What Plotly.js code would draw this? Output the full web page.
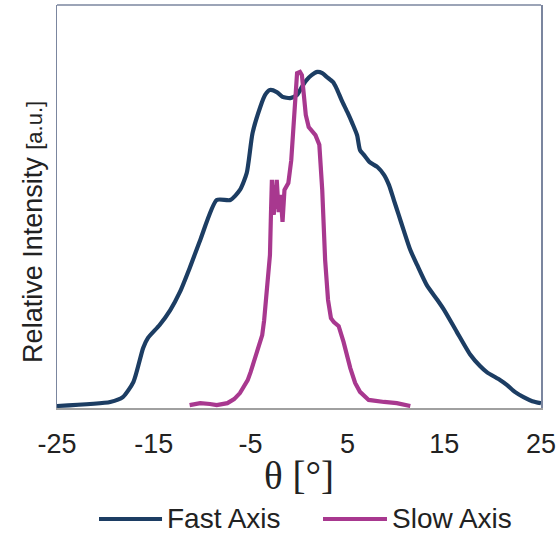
<!DOCTYPE html>
<html>
<head>
<meta charset="utf-8">
<script src="https://cdn.plot.ly/plotly-3.0.1.min.js"></script>
<style>html,body{margin:0;padding:0;background:#fff;}#chart{width:557px;height:535px;}</style>
</head>
<body>
<div id="chart"></div>
<script>
const fastTheta = [-25.0,-19.5,-18.2,-17.1,-16.1,-15.6,-14.4,-13.3,-12.3,-11.3,-10.2,-8.5,-7.1,-6.1,-5.4,-4.8,-4.0,-3.5,-3.0,-2.3,-1.7,-0.9,-0.2,0.3,0.8,1.3,1.9,2.4,2.9,3.5,3.9,4.4,5.0,5.5,6.0,6.3,6.7,7.3,8.1,8.8,9.3,9.8,10.3,10.8,11.5,12.2,13.2,14.3,15.0,16.3,17.7,18.7,19.4,20.8,21.5,22.3,23.2,24.1,25.0];
const fastIntensity = [0.005,0.015,0.027,0.065,0.149,0.174,0.206,0.243,0.288,0.347,0.417,0.516,0.516,0.541,0.583,0.682,0.747,0.777,0.789,0.784,0.772,0.769,0.777,0.797,0.814,0.826,0.834,0.831,0.821,0.809,0.792,0.764,0.734,0.707,0.677,0.640,0.628,0.610,0.598,0.578,0.553,0.516,0.479,0.442,0.392,0.355,0.305,0.268,0.243,0.189,0.132,0.104,0.089,0.069,0.057,0.040,0.027,0.017,0.012];
const slowTheta = [-11.3,-10.2,-9.2,-8.5,-7.4,-6.7,-6.1,-5.6,-5.3,-5.0,-4.7,-4.2,-3.8,-3.6,-3.4,-3.2,-3.0,-2.9,-2.8,-2.7,-2.6,-2.5,-2.4,-2.3,-2.1,-1.9,-1.7,-1.5,-1.1,-0.8,-0.6,-0.4,-0.2,0.1,0.3,0.5,0.7,1.0,1.7,2.1,2.4,2.7,3.0,3.3,3.6,4.1,4.6,5.3,5.8,6.3,7.2,8.8,10.1,11.5];
const slowIntensity = [0.007,0.012,0.010,0.007,0.012,0.022,0.037,0.055,0.069,0.089,0.112,0.149,0.181,0.218,0.280,0.330,0.380,0.479,0.566,0.529,0.479,0.553,0.494,0.566,0.486,0.529,0.462,0.541,0.558,0.615,0.695,0.777,0.831,0.834,0.826,0.777,0.727,0.697,0.677,0.653,0.541,0.367,0.268,0.223,0.213,0.203,0.164,0.099,0.062,0.040,0.020,0.015,0.012,0.005];
const xTicks = [-25,-15,-5,5,15,25];
const seriesNames = ['Fast Axis','Slow Axis'];
const seriesColors = ['#1c3d63','#a8388f'];

const traces = [
  {x: fastTheta, y: fastIntensity, name: seriesNames[0], mode: 'lines', line: {color: seriesColors[0], width: 4.2, shape: 'spline', smoothing: 0.6}},
  {x: slowTheta, y: slowIntensity, name: seriesNames[1], mode: 'lines', line: {color: seriesColors[1], width: 4.2}}
];

const FONT = 'Liberation Sans, Arial, sans-serif';
const legY = -0.2754;
const legendItems = [
  {x0: 0.0868, x1: 0.217, tx: 0.225},
  {x0: 0.5496, x1: 0.6818, tx: 0.690}
];

const layout = {
  width: 557, height: 535,
  margin: {l: 57, r: 16, t: 5, b: 127, autoexpand: false},
  paper_bgcolor: '#fff', plot_bgcolor: '#fff',
  font: {family: FONT, color: '#222'},
  xaxis: {
    range: [-25, 25], tickvals: xTicks, ticktext: xTicks.map(String),
    showgrid: false, zeroline: false, showline: true, linecolor: '#a0a0a0', linewidth: 1.5,
    ticks: '', ticklabelstandoff: 11, automargin: false,
    tickfont: {size: 27, family: FONT, color: '#222'},
    title: {text: 'θ [°]', font: {size: 39, family: 'Liberation Serif, serif', color: '#222'}, standoff: 4}
  },
  yaxis: {
    range: [0, 1], showticklabels: false, showgrid: false, zeroline: false, automargin: false,
    showline: true, mirror: true, linecolor: '#7b869f', linewidth: 1.5, ticks: ''
  },
  shapes: [{type: 'line', xref: 'paper', yref: 'paper', x0: 0, x1: 1, y0: 1, y1: 1, line: {color: '#7b869f', width: 1.5}}]
    .concat(legendItems.map((it, i) => ({type: 'line', xref: 'paper', yref: 'paper', x0: it.x0, x1: it.x1, y0: legY, y1: legY, line: {color: seriesColors[i], width: 4.2}}))),
  annotations: legendItems.map((it, i) => ({xref: 'paper', yref: 'paper', x: it.tx, y: legY, xanchor: 'left', yanchor: 'middle', showarrow: false, borderpad: 0, text: seriesNames[i], font: {size: 28, family: FONT, color: '#222'}}))
    .concat([{xref: 'paper', yref: 'paper', x: -0.0496, y: 0.437, xanchor: 'center', yanchor: 'middle', textangle: -90, showarrow: false, borderpad: 0,
      text: 'Relative Intensity <span style="font-size:22px">[a.u.]</span>', font: {size: 27, family: FONT, color: '#222'}}]),
  showlegend: false
};

Plotly.newPlot('chart', traces, layout, {staticPlot: true, displayModeBar: false});
</script>
</body>
</html>
